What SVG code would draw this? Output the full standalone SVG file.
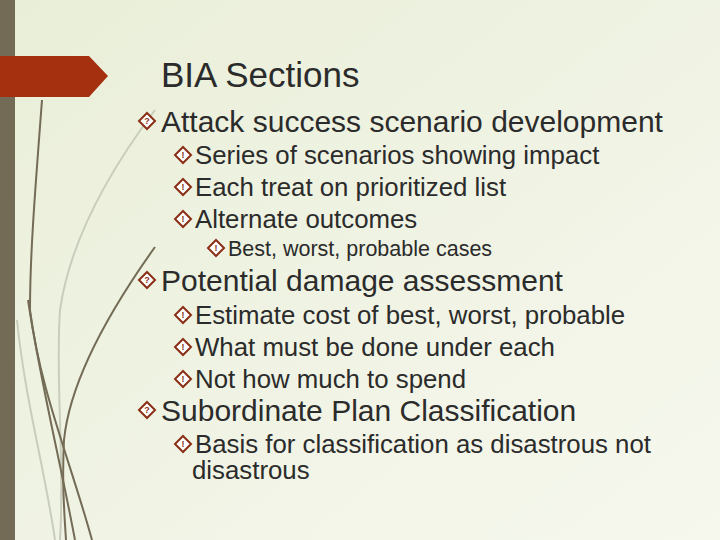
<svg xmlns="http://www.w3.org/2000/svg" width="720" height="540" viewBox="0 0 720 540">
<defs>
<linearGradient id="bg" x1="0" y1="0" x2="1" y2="1">
<stop offset="0" stop-color="#e9eed8"/><stop offset="1" stop-color="#f6f8ee"/>
</linearGradient>
<g id="b"><path d="M0,-8 L8,0 L0,8 L-8,0 Z" fill="#fff" stroke="#8a2e16" stroke-width="2"/></g>
</defs>
<style>
text{font-family:"Liberation Sans",Arial,sans-serif;fill:#2b2b2b}
.t{font-size:35px}.l1{font-size:30px}.l2{font-size:25.8px}.l3{font-size:21.5px}
.q{font-size:9px;font-weight:bold;fill:#8a2e16;text-anchor:middle}
.d{fill:none;stroke:#736b55;stroke-width:2}
.lt{fill:none;stroke:#c9cdbb;stroke-width:2}
</style>
<rect width="720" height="540" fill="url(#bg)"/>
<g id="deco">
<path class="lt" d="M155,110 C110,170 70,240 60,310 C55,380 65,460 60,540"/>
<path class="lt" d="M17,320 C25,400 45,470 55,540"/>
<path class="d" d="M42,100 C36,180 30,250 30,310 C40,390 70,460 92,540"/>
<path class="d" d="M28,300 C40,380 60,460 75,540"/>
<path class="d" d="M155,247 C110,310 70,380 64,440 C62,480 64,510 66,540"/>
<rect x="0" y="0" width="15" height="540" fill="#736b55"/>
<path d="M0,56 L89,56 L108,76 L89,97 L0,97 Z" fill="#a5300f"/>
</g>
<g id="title"><text class="t" x="161" y="87">BIA Sections</text></g>
<g id="content">
<use href="#b" x="147" y="121"/><text class="q" x="147" y="124">?</text>
<text class="l1" x="161" y="132">Attack success scenario development</text>
<use href="#b" x="183" y="155"/><text class="q" x="183" y="158">!</text>
<text class="l2" x="195" y="164">Series of scenarios showing impact</text>
<use href="#b" x="183" y="187"/><text class="q" x="183" y="190">!</text>
<text class="l2" x="195" y="196">Each treat on prioritized list</text>
<use href="#b" x="183" y="219"/><text class="q" x="183" y="222">!</text>
<text class="l2" x="195" y="228">Alternate outcomes</text>
<use href="#b" x="216" y="248"/><text class="q" x="216" y="251">!</text>
<text class="l3" x="228" y="256">Best, worst, probable cases</text>
<use href="#b" x="147" y="280"/><text class="q" x="147" y="283">?</text>
<text class="l1" x="161" y="291">Potential damage assessment</text>
<use href="#b" x="183" y="315"/><text class="q" x="183" y="318">!</text>
<text class="l2" x="195" y="324">Estimate cost of best, worst, probable</text>
<use href="#b" x="183" y="347"/><text class="q" x="183" y="350">!</text>
<text class="l2" x="195" y="356">What must be done under each</text>
<use href="#b" x="183" y="379"/><text class="q" x="183" y="382">!</text>
<text class="l2" x="195" y="388">Not how much to spend</text>
<use href="#b" x="147" y="410"/><text class="q" x="147" y="413">?</text>
<text class="l1" x="161" y="421">Subordinate Plan Classification</text>
<use href="#b" x="183" y="444"/><text class="q" x="183" y="447">!</text>
<text class="l2" x="195" y="453">Basis for classification as disastrous not</text>
<text class="l2" x="192" y="479">disastrous</text>
</g>
</svg>
